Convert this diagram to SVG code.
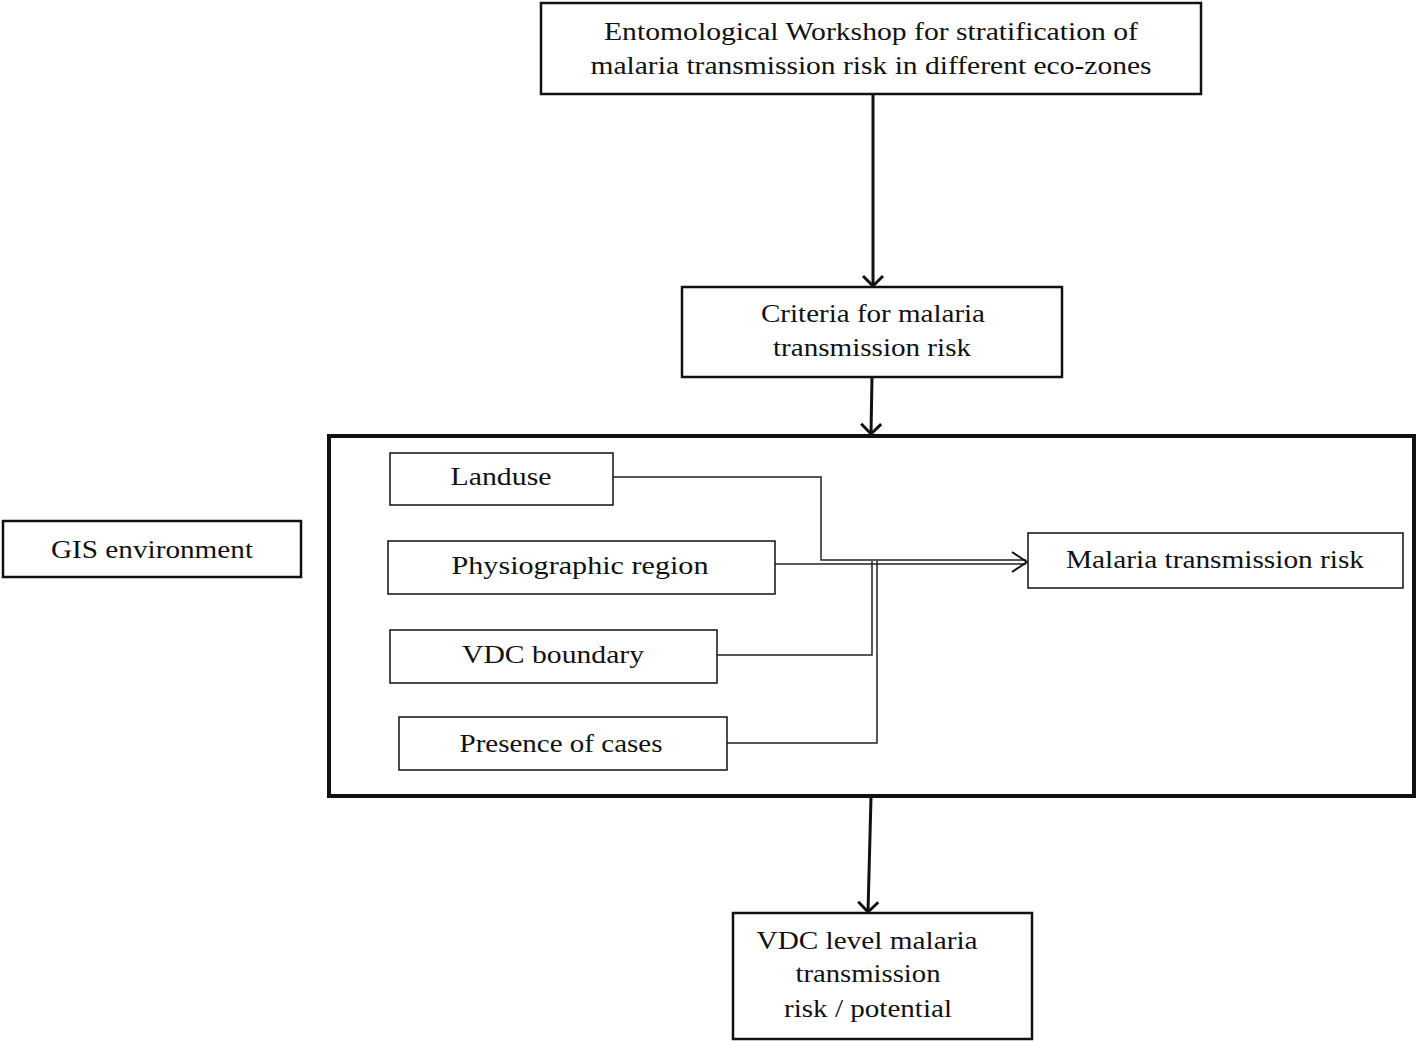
<svg xmlns="http://www.w3.org/2000/svg" width="1418" height="1042" viewBox="0 0 1418 1042">
<style>
.b{fill:#fff;stroke:#111;stroke-width:2.5}
.t{fill:#fff;stroke:#111;stroke-width:1.5}
.big{fill:none;stroke:#111;stroke-width:4}
text{font-family:"Liberation Serif",serif;font-size:26px;fill:#111;text-anchor:middle}
.c{fill:none;stroke:#111;stroke-width:3}
.ct{fill:none;stroke:#222;stroke-width:1.5}
</style>
<defs>
<marker id="ah" markerWidth="24" markerHeight="24" refX="12" refY="12" orient="auto" markerUnits="userSpaceOnUse">
<path d="M2,2 L12,12 L2,22" fill="none" stroke="#111" stroke-width="3"/>
</marker>
</defs>
<g id="connectors">
<line class="c" x1="873" y1="94" x2="873" y2="286" marker-end="url(#ah)"/>
<line class="c" x1="872" y1="377" x2="871" y2="434" marker-end="url(#ah)"/>
<line class="c" x1="871" y1="797" x2="868" y2="912" marker-end="url(#ah)"/>
<polyline class="ct" points="613,477 821,477 821,560 1026,560"/>
<line class="ct" x1="775" y1="564" x2="1026" y2="564"/>
<polyline class="ct" points="717,655 872,655 872,561"/>
<polyline class="ct" points="727,743 877,743 877,561"/>
<path d="M1012,552 L1027,562 L1012,572" fill="none" stroke="#111" stroke-width="2"/>
</g>
<g id="top"><rect class="b" x="541" y="3" width="660" height="91"/>
<text x="871" y="40" textLength="534" lengthAdjust="spacingAndGlyphs">Entomological Workshop for stratification of</text>
<text x="871" y="74" textLength="561" lengthAdjust="spacingAndGlyphs">malaria transmission risk in different eco-zones</text></g>
<g id="criteria"><rect class="b" x="682" y="287" width="380" height="90"/>
<text x="873" y="322" textLength="224" lengthAdjust="spacingAndGlyphs">Criteria for malaria</text>
<text x="872" y="356" textLength="198" lengthAdjust="spacingAndGlyphs">transmission risk</text></g>
<g id="gisframe"><rect class="big" x="329" y="436" width="1085" height="360"/></g>
<g id="gis"><rect class="b" x="3" y="521" width="298" height="56"/>
<text x="152" y="558" textLength="202" lengthAdjust="spacingAndGlyphs">GIS environment</text></g>
<g id="landuse"><rect class="t" x="390" y="453" width="223" height="52"/>
<text x="501" y="485" textLength="101" lengthAdjust="spacingAndGlyphs">Landuse</text></g>
<g id="physio"><rect class="t" x="388" y="541" width="387" height="53"/>
<text x="580" y="574" textLength="257" lengthAdjust="spacingAndGlyphs">Physiographic  region</text></g>
<g id="vdcb"><rect class="t" x="390" y="630" width="327" height="53"/>
<text x="553" y="663" textLength="182" lengthAdjust="spacingAndGlyphs">VDC boundary</text></g>
<g id="presence"><rect class="t" x="399" y="717" width="328" height="53"/>
<text x="561" y="752" textLength="203" lengthAdjust="spacingAndGlyphs">Presence of cases</text></g>
<g id="risk"><rect class="t" x="1028" y="533" width="375" height="55"/>
<text x="1215" y="568" textLength="298" lengthAdjust="spacingAndGlyphs">Malaria transmission risk</text></g>
<g id="vdclevel"><rect class="b" x="733" y="913" width="299" height="126"/>
<text x="867" y="949" textLength="221" lengthAdjust="spacingAndGlyphs">VDC level malaria</text>
<text x="868" y="982" textLength="145" lengthAdjust="spacingAndGlyphs">transmission</text>
<text x="868" y="1017" textLength="168" lengthAdjust="spacingAndGlyphs">risk / potential</text></g>
</svg>
